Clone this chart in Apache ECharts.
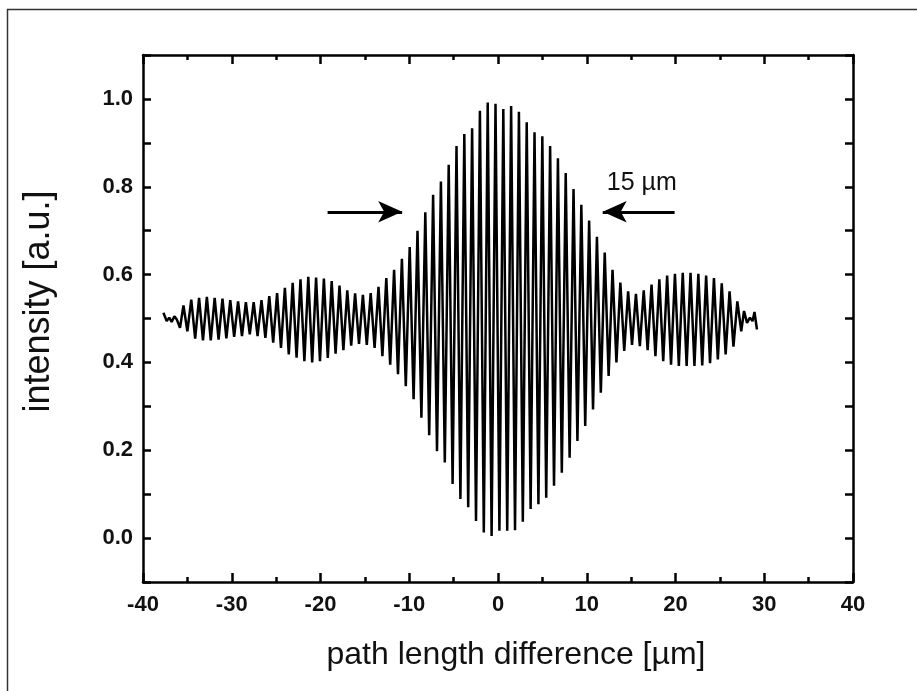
<!DOCTYPE html>
<html>
<head>
<meta charset="utf-8">
<script src="https://cdn.jsdelivr.net/npm/echarts@6/dist/echarts.min.js"></script>
<style>
html,body{margin:0;padding:0;background:#fff;}
#chart{width:917px;height:691px;}
</style>
</head>
<body>
<div id="chart"></div>
<script>
// ---- data ----
// leading small wiggles (x in µm, intensity)
const headX = [-37.70, -37.33, -37.04, -36.77, -36.47, -36.20, -35.83];
const headY = [0.513, 0.494, 0.502, 0.492, 0.505, 0.498, 0.479];
// fringe grid: first maximum position and fringe period (µm)
const fringeStart = -35.44;
const fringePeriod = 0.879;
// fringe maxima (one per fringe)
const fringeMax = [
  0.530, 0.543, 0.547, 0.549, 0.547, 0.545, 0.542, 0.539, 0.537, 0.537,
  0.542, 0.551, 0.558, 0.570, 0.581, 0.589, 0.595, 0.593, 0.591, 0.585,
  0.575, 0.564, 0.557, 0.554, 0.558, 0.572, 0.592, 0.611, 0.636, 0.663,
  0.700, 0.742, 0.782, 0.812, 0.850, 0.893, 0.920, 0.933, 0.973, 0.992,
  0.989, 0.977, 0.984, 0.971, 0.947, 0.924, 0.915, 0.893, 0.865, 0.831,
  0.795, 0.759, 0.723, 0.686, 0.650, 0.611, 0.582, 0.562, 0.556, 0.564,
  0.577, 0.589, 0.598, 0.602, 0.604, 0.604, 0.602, 0.598, 0.592, 0.580,
  0.562, 0.539
];
// fringe minima (half a period after each maximum)
const fringeMin = [
  0.471, 0.454, 0.450, 0.450, 0.452, 0.455, 0.458, 0.460, 0.464, 0.460,
  0.456, 0.445, 0.433, 0.418, 0.411, 0.403, 0.400, 0.403, 0.410, 0.420,
  0.428, 0.438, 0.442, 0.440, 0.433, 0.414, 0.395, 0.373, 0.346, 0.316,
  0.274, 0.234, 0.198, 0.172, 0.123, 0.089, 0.070, 0.039, 0.013, 0.005,
  0.017, 0.017, 0.018, 0.037, 0.066, 0.077, 0.092, 0.119, 0.149, 0.183,
  0.221, 0.255, 0.293, 0.331, 0.369, 0.400, 0.426, 0.440, 0.437, 0.428,
  0.414, 0.403, 0.395, 0.392, 0.392, 0.392, 0.393, 0.398, 0.407, 0.418,
  0.436, 0.471
];
// trailing small wiggles
const tailX = [27.72, 28.06, 28.39, 28.68, 28.90, 29.18];
const tailY = [0.517, 0.490, 0.502, 0.494, 0.515, 0.475];

// axis ticks
const xTicks = [-40, -30, -20, -10, 0, 10, 20, 30, 40];
const yTickLabels = ['0.0', '0.2', '0.4', '0.6', '0.8', '1.0'];

// annotation
const arrowY = 0.743;
const arrowLeft = [-19.2, -10.8];   // tail, tip (pointing right)
const arrowRight = [19.9, 11.8];    // tail, tip (pointing left)
const widthLabel = '15 µm';
const widthLabelPos = [16.2, 0.809];

// ---- build series ----
const lineData = [];
headX.forEach((x, k) => lineData.push([x, headY[k]]));
for (let i = 0; i < fringeMax.length; i++) {
  lineData.push([fringeStart + i * fringePeriod, fringeMax[i]]);
  lineData.push([fringeStart + (i + 0.5) * fringePeriod, fringeMin[i]]);
}
tailX.forEach((x, k) => lineData.push([x, tailY[k]]));

const FONT = '"Liberation Sans", Arial, Helvetica, sans-serif';
const AX = '#000';

const chart = echarts.init(document.getElementById('chart'), null, {renderer: 'canvas'});

const baseX = {
  type: 'value', min: -40, max: 40, interval: 10,
  axisLine: {show: true, onZero: false, lineStyle: {color: AX, width: 2.5}},
  axisTick: {show: true, inside: true, length: 9, lineStyle: {color: AX, width: 2.5}},
  minorTick: {show: true, splitNumber: 2, length: 5, lineStyle: {color: AX, width: 2.5}},
  splitLine: {show: false}
};
const baseY = {
  type: 'value', min: -0.1, max: 1.1, interval: 0.1,
  axisLine: {show: true, onZero: false, lineStyle: {color: AX, width: 2.5}},
  axisTick: {show: true, inside: true, length: 8, lineStyle: {color: AX, width: 2.5}},
  splitLine: {show: false}
};

chart.setOption({
  animation: false,
  backgroundColor: '#fff',
  grid: {left: 143, top: 55, right: 64, bottom: 109, containLabel: false},
  xAxis: [
    Object.assign({}, baseX, {
      position: 'bottom',
      name: 'path length difference [µm]',
      nameLocation: 'middle', nameGap: 57,
      nameTextStyle: {fontFamily: FONT, fontSize: 32, color: '#111', padding: [0, 0, 0, 36]},
      axisLabel: {show: true, margin: 12, fontFamily: FONT, fontSize: 22, fontWeight: 'bold', color: '#111',
        formatter: v => xTicks.includes(Math.round(v)) ? String(Math.round(v)) : ''}
    }),
    Object.assign({}, baseX, {position: 'top', axisLabel: {show: false}})
  ],
  yAxis: [
    Object.assign({}, baseY, {
      position: 'left',
      name: 'intensity [a.u.]',
      nameLocation: 'middle', nameGap: 86,
      nameTextStyle: {fontFamily: FONT, fontSize: 36, color: '#111', padding: [0, 0, 0, 34]},
      axisLabel: {show: true, margin: 10, fontFamily: FONT, fontSize: 22, fontWeight: 'bold', color: '#111',
        formatter: v => {
          const t = Math.round(v * 10);
          if (t < 0 || t % 2 !== 0) return '';
          const s = (t / 10).toFixed(1);
          return yTickLabels.includes(s) ? s : '';
        }}
    }),
    Object.assign({}, baseY, {position: 'right', axisLabel: {show: false}})
  ],
  series: [
    {
      type: 'line',
      data: lineData,
      xAxisIndex: 0, yAxisIndex: 0,
      showSymbol: false, symbol: 'none',
      lineStyle: {color: '#000', width: 2.5},
      clip: true,
      markLine: {
        silent: true,
        symbol: ['none', 'arrow'],
        symbolSize: [16, 24],
        lineStyle: {color: '#000', width: 3, type: 'solid'},
        label: {show: false},
        data: [
          [{coord: [arrowLeft[0], arrowY]}, {coord: [arrowLeft[1], arrowY]}],
          [{coord: [arrowRight[0], arrowY]}, {coord: [arrowRight[1], arrowY]}]
        ]
      },
      markPoint: {
        silent: true,
        symbol: 'circle', symbolSize: 0,
        label: {show: true, position: 'inside', formatter: widthLabel, fontFamily: FONT, fontSize: 25, color: '#111'},
        data: [{coord: widthLabelPos}]
      }
    }
  ],
  graphic: [
    {type: 'polyline', silent: true,
     shape: {points: [[7.5, 691], [7.5, 9.5], [917, 9.5]]},
     style: {stroke: '#333', lineWidth: 1.5, fill: null}}
  ]
});
</script>
</body>
</html>
